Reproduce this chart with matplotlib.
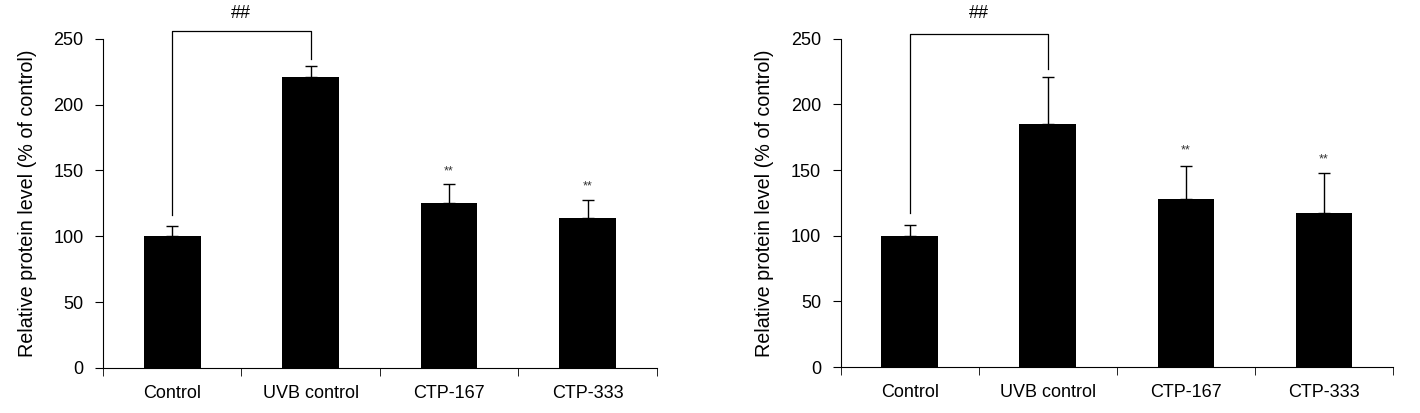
import numpy as np
import matplotlib.pyplot as plt
from matplotlib.ticker import FixedLocator

plt.rcParams['font.family'] = ['Liberation Sans', 'DejaVu Sans']

groups = ['Control', 'UVB control', 'CTP-167', 'CTP-333']

# left panel
left_mean = [100, 221, 125, 114]
left_err = [8, 8.5, 15, 13.5]

# right panel
right_mean = [100, 185.5, 128, 117]
right_err = [8.5, 35.5, 25.5, 31]

stars = ['', '', '**', '**']


def panel(ax, mean, err, bracket_y, legs, star_y):
    x = np.arange(len(groups))
    ax.bar(x, mean, width=0.41, color='black', zorder=2)
    ax.errorbar(x, mean, yerr=[np.zeros(len(err)), err], fmt='none',
                ecolor='black', elinewidth=1, capsize=4, capthick=1, zorder=1)

    # significance bracket between Control and UVB control
    ax.plot([0, 0, 1, 1], [legs[0], bracket_y, bracket_y, legs[1]],
            color='black', lw=0.9, clip_on=False)
    ax.text(0.5, 269, '##', ha='center', va='center', fontsize=13, clip_on=False)

    for i in range(len(groups)):
        if stars[i]:
            ax.text(i, star_y[i], stars[i], ha='center', va='center',
                    fontsize=9, color='#333333')

    ax.set_xlim(-0.5, 3.5)
    ax.set_ylim(0, 250)
    ax.set_yticks([0, 50, 100, 150, 200, 250])
    ax.set_xticks(x)
    ax.set_xticklabels(groups)
    ax.xaxis.set_minor_locator(FixedLocator([-0.5, 0.5, 1.5, 2.5, 3.5]))
    ax.tick_params(axis='x', which='major', length=0, pad=12, labelsize=13)
    ax.tick_params(axis='x', which='minor', length=6, direction='out')
    ax.tick_params(axis='y', length=6, direction='out', labelsize=13, pad=8)
    ax.spines['top'].set_visible(False)
    ax.spines['right'].set_visible(False)
    ax.set_ylabel('Relative protein level (% of control)', fontsize=14.2, labelpad=12)


fig = plt.figure(figsize=(14.2, 4.13), dpi=100)
ax1 = fig.add_axes([0.0725, 0.109, 0.390, 0.797])
ax2 = fig.add_axes([0.592, 0.111, 0.389, 0.795])

panel(ax1, left_mean, left_err, 256, [116, 235], [0, 0, 149, 138])
panel(ax2, right_mean, right_err, 254, [117.5, 227], [0, 0, 165, 158])

fig.savefig('out.png', dpi=100)
